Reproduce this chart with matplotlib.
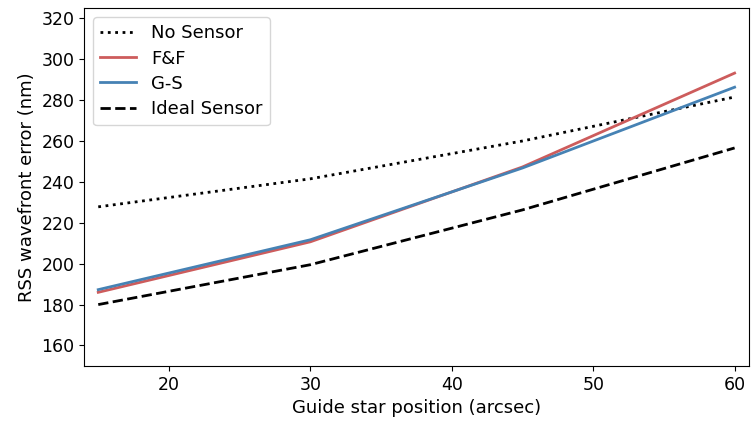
import numpy as np
import matplotlib
matplotlib.use('Agg')
import matplotlib.pyplot as plt

positions = [15, 30, 45, 60]
no_sensor = [227.8, 241.5, 260.0, 281.5]
ff = [186.0, 210.7, 247.3, 293.2]
gs = [187.3, 211.7, 246.8, 286.3]
ideal = [180.0, 199.5, 226.3, 256.6]

plt.rcParams['font.size'] = 12

fig = plt.figure(figsize=(7.51, 4.25), dpi=100)
ax = fig.add_axes([0.112, 0.139, 0.885, 0.842])

ax.plot(positions, no_sensor, color='black', ls=':', lw=2, label='No Sensor')
ax.plot(positions, ff, color='indianred', lw=2, label='F&F')
ax.plot(positions, gs, color='steelblue', lw=2, label='G-S')
ax.plot(positions, ideal, color='black', ls='--', lw=2, label='Ideal Sensor')

ax.set_xlim(14, 61)
ax.set_ylim(150, 325)
ax.set_yticks(np.arange(160, 321, 20))
ax.tick_params(labelsize=12.5)
ax.set_xlabel('Guide star position (arcsec)', fontsize=13)
ax.set_ylabel('RSS wavefront error (nm)', fontsize=13)
ax.legend(loc='upper left', fontsize=13, labelspacing=0.4)

fig.savefig('out.png', dpi=100)
